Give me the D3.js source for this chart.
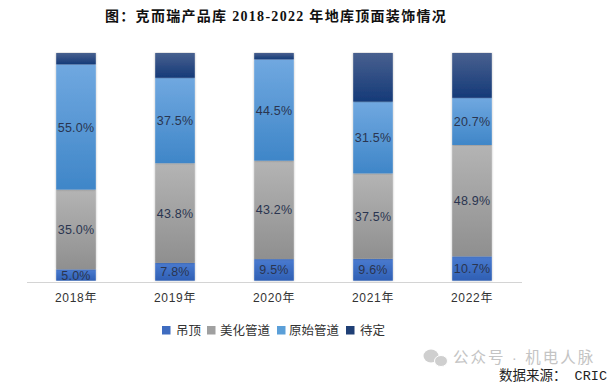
<!DOCTYPE html>
<html><head><meta charset="utf-8">
<script src="https://cdn.jsdelivr.net/npm/d3@7"></script>
<style>html,body{margin:0;padding:0;background:#fff}svg{display:block}</style>
</head><body><svg id="c" width="616" height="385"></svg>
<script>
const years = ["2018年","2019年","2020年","2021年","2022年"];
const seriesNames = ["吊顶","美化管道","原始管道","待定"];
const ceiling = [5.0,7.8,9.5,9.6,10.7];
const beautified = [35.0,43.8,43.2,37.5,48.9];
const original = [55.0,37.5,44.5,31.5,20.7];
const pending = [5.0,10.9,2.8,21.4,19.7];
const showLabel = [true,true,true,false];
const colors = [["#4a7bd0","#2f5fb4"],["#b4b4b4","#8f8f8f"],["#70a8e0","#3f86c8"],["#48608f","#153a78"]];
const legendColors = ["#3f6cc0","#a0a0a0","#5b9fd8","#1f3f75"];
const titleText = "图:克而瑞产品库 2018-2022 年地库顶面装饰情况".replace(":","：");
const sourceText = "数据来源:CRIC".replace(":","： ");
const markText = "公众号 · 机电人脉";

const svg = d3.select("#c");
const cjk = "'Liberation Sans','Noto Sans CJK SC',sans-serif";
const x = d3.scaleBand().domain(years).range([26.5,521.5]).paddingInner(0.6).paddingOuter(0.3);
const y = d3.scaleLinear().domain([0,100]).range([280.7,53]);

const defs = svg.append("defs");
colors.forEach((c,i)=>{
  const g = defs.append("linearGradient").attr("id","g"+i).attr("x1",0).attr("y1",0).attr("x2",0).attr("y2",1);
  g.append("stop").attr("offset","0%").attr("stop-color",c[0]);
  g.append("stop").attr("offset","100%").attr("stop-color",c[1]);
});
const f = defs.append("filter").attr("id","sh").attr("x","-15%").attr("y","-2%").attr("width","130%").attr("height","104%");
f.append("feDropShadow").attr("dx",0).attr("dy",0).attr("stdDeviation",1.2).attr("flood-color","#000").attr("flood-opacity",0.28);

const table = years.map((yr,i)=>({year:yr,"吊顶":ceiling[i],"美化管道":beautified[i],"原始管道":original[i],"待定":pending[i]}));
const stacked = d3.stack().keys(seriesNames)(table);

svg.append("text").attr("x",105).attr("y",21)
  .style("font-family","'Liberation Serif','Noto Sans CJK SC',serif").style("font-weight",700).style("font-size","14px").style("letter-spacing","1.3px").style("white-space","pre").attr("fill","#111").text(titleText);

const layers = svg.selectAll("g.layer").data(stacked).join("g").attr("class","layer");
layers.selectAll("rect").data((d,i)=>d.map(p=>({p,i,year:p.data.year}))).join("rect")
  .attr("x",d=>x(d.year)).attr("width",x.bandwidth())
  .attr("y",d=>y(d.p[1])).attr("height",d=>y(d.p[0])-y(d.p[1]))
  .attr("fill",d=>`url(#g${d.i})`).attr("filter","url(#sh)");

layers.filter((d,i)=>showLabel[i]).each(function(d,i){
  d3.select(this).selectAll("text").data(d).join("text")
    .attr("x",p=>x(p.data.year)+x.bandwidth()/2)
    .attr("y",p=>(y(p[0])+y(p[1]))/2+4.5)
    .attr("text-anchor","middle")
    .style("font-family",cjk).style("font-size","12.5px").style("letter-spacing","0.2px").attr("fill","#2a3550")
    .text(p=>(p[1]-p[0]).toFixed(1)+"%");
});

const axis = d3.axisBottom(x).tickSize(0).tickPadding(11);
const ax = svg.append("g").attr("transform","translate(0,282)").call(axis);
ax.select("path").attr("stroke","#d4d4d4").attr("stroke-width",1);
ax.selectAll("text").style("font-family",cjk).style("font-size","12px").style("letter-spacing","0.7px").attr("fill","#333");

const legendX = [162,207,277,346], legendTextX = [176,220,289,360];
const lg = svg.selectAll("g.lg").data(seriesNames).join("g").attr("class","lg");
lg.append("rect").attr("x",(d,i)=>legendX[i]).attr("y",326).attr("width",8.5).attr("height",8.5).attr("fill",(d,i)=>legendColors[i]);
lg.append("text").attr("x",(d,i)=>legendTextX[i]).attr("y",335)
  .style("font-family",cjk).style("font-size","12.5px").attr("fill","#333").text(d=>d);

// watermark
const wm = svg.append("g").attr("fill","#cfcfcf");
wm.append("ellipse").attr("cx",431).attr("cy",356).attr("rx",7.5).attr("ry",6.5);
wm.append("ellipse").attr("cx",441).attr("cy",361).attr("rx",6.5).attr("ry",5.5).attr("stroke","#fff").attr("stroke-width",1);
svg.append("text").attr("x",453).attr("y",363).style("font-family",cjk).style("font-size","15.5px").style("letter-spacing","2px").attr("fill","#c4c4c4").text(markText);

svg.append("text").attr("x",499).attr("y",379.5)
  .style("font-family","'Liberation Mono','Noto Sans CJK SC',monospace").style("font-size","13.5px").style("white-space","pre").attr("fill","#222").text(sourceText);
</script></body></html>
